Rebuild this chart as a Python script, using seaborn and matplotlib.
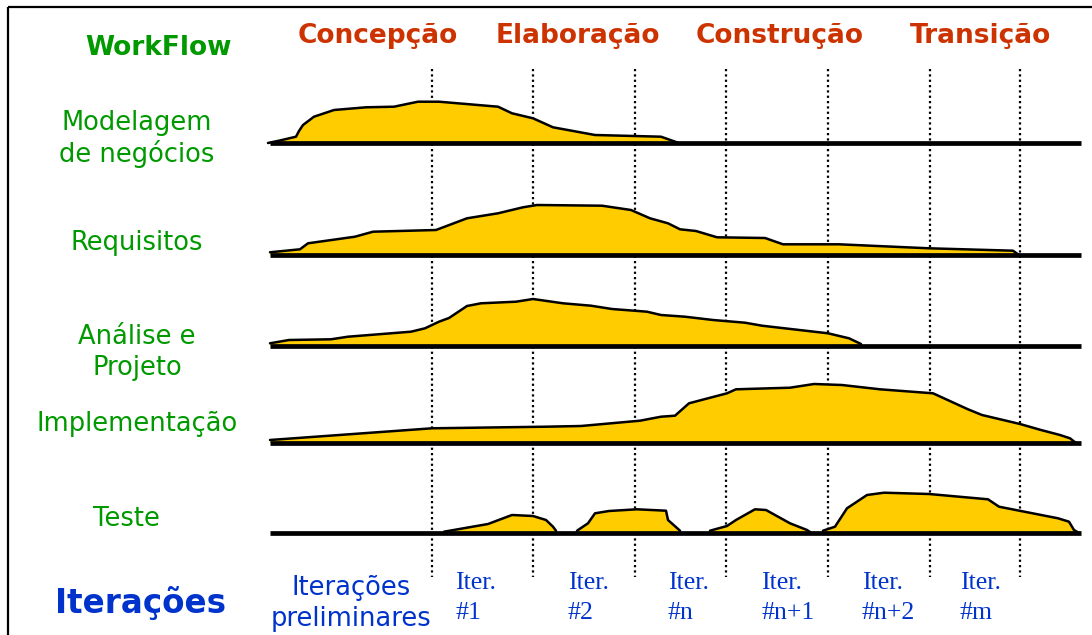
import matplotlib
matplotlib.use("Agg")
import matplotlib.pyplot as plt
import seaborn as sns
import pandas as pd
import numpy as np

# ---------------- data ----------------
phases = ["Concepção", "Elaboração", "Construção", "Transição"]
phase_x = [378, 578, 780, 980]

workflows = ["Modelagem\nde negócios", "Requisitos", "Análise e\nProjeto", "Implementação", "Teste"]
lane_base = [143, 255, 346, 443, 533]

iteration_bounds = [432, 533, 635, 726, 828, 930, 1020]
iter_labels = ["#1", "#2", "#n", "#n+1", "#n+2", "#m"]
iter_x = [455, 568, 668, 761, 862, 960]

# effort profiles (position along timeline, effort height)
model_x = [268, 279, 296, 299, 303, 314, 334, 366, 394, 418, 439, 498, 512, 533, 553, 595, 661, 678]
model_h = [0, 2.3, 6.3, 12, 18, 26.3, 33, 35.7, 36.3, 41.3, 41.3, 36.3, 29.7, 24.7, 15.7, 8, 6.3, 0.3]

req_x = [270, 300, 308, 355, 373, 436, 467, 498, 523, 537, 602, 631, 650, 668, 680, 696, 717,
         765, 783, 839, 929, 1013, 1018]
req_h = [2.7, 5.7, 11.7, 18.3, 23.3, 25, 36.7, 41.7, 47.7, 50, 49.3, 45, 36.7, 31.7, 25.7, 24, 17.7,
         17, 10.7, 10.7, 6.7, 4.3, 0.7]

ana_x = [270, 289, 331, 348, 411, 425, 439, 449, 467, 481, 516, 533, 563, 591, 612, 647, 661, 685,
         713, 745, 762, 828, 849, 861]
ana_h = [2.7, 6, 6.7, 9.3, 14.3, 17.7, 24.3, 28, 40, 42.7, 44.3, 47, 42.7, 40.3, 37, 34.3, 31, 29.3,
         26, 23.3, 20.3, 12.7, 7.7, 2]

impl_x = [270, 432, 546, 581, 640, 661, 675, 689, 727, 736, 790, 814, 842, 880, 933, 968, 982,
          1020, 1041, 1060, 1070, 1076]
impl_h = [3, 14.7, 16.3, 17, 22.3, 26.3, 27.3, 39.7, 49.7, 53.7, 55.3, 59, 58, 53.7, 49.7, 33.7, 28,
          19, 13, 8, 4.7, 0]

teste1_x = [444, 488, 512, 533, 546, 553, 556]
teste1_h = [1.3, 9, 18, 17, 13, 6.3, 2.3]
teste2_x = [577, 588, 595, 609, 637, 666, 668, 680]
teste2_h = [2.3, 9.7, 19.7, 22, 23.7, 22.3, 13, 2.3]
teste3_x = [710, 727, 736, 755, 766, 790, 807, 811]
teste3_h = [2.3, 7, 13, 23.7, 23, 9.7, 3, 0.3]
teste4_x = [823, 835, 847, 867, 884, 929, 988, 999, 1058, 1069, 1074, 1079]
teste4_h = [2.3, 6.3, 24.7, 38, 40.3, 39, 33.7, 26.3, 14.7, 11.3, 3, 0]

profiles = [
    (0, model_x, model_h),
    (1, req_x, req_h),
    (2, ana_x, ana_h),
    (3, impl_x, impl_h),
    (4, teste1_x, teste1_h),
    (4, teste2_x, teste2_h),
    (4, teste3_x, teste3_h),
    (4, teste4_x, teste4_h),
]

# ---------------- style ----------------
sns.set_theme(style="white")
plt.rcParams["font.family"] = ["DejaVu Sans"]

GREEN = "#009900"
ORANGE = "#cc3300"
BLUE = "#0033cc"
YELLOW = "#ffcc00"

fig = plt.figure(figsize=(10.92, 6.35), dpi=100)
ax = fig.add_axes([0, 0, 1, 1])
ax.set_xlim(0, 1092)
ax.set_ylim(635, 0)
ax.axis("off")

# frame (top + left)
ax.plot([8, 1092], [7, 7], color="black", lw=1.6, solid_capstyle="butt")
ax.plot([8, 8], [7, 635], color="black", lw=1.6, solid_capstyle="butt")

# iteration boundaries (dotted)
for xb in iteration_bounds:
    ax.plot([xb, xb], [69, 577], color="black", lw=1.6,
            linestyle=(0, (1, 1.4)), dash_capstyle="butt", zorder=1)

# humps
for lane, xs, hs in profiles:
    base = lane_base[lane]
    df = pd.DataFrame({"x": xs, "y": [base - h for h in hs]})
    ax.fill_between(df["x"], df["y"], base, color=YELLOW, lw=0, zorder=2)
    sns.lineplot(data=df, x="x", y="y", ax=ax, color="black", lw=1.8,
                 sort=False, estimator=None, zorder=3,
                 solid_joinstyle="round", solid_capstyle="round")

# baselines
for base in lane_base:
    ax.plot([270, 1081], [base, base], color="black", lw=3.4,
            solid_capstyle="butt", zorder=4)
ax.set_xlim(0, 1092)
ax.set_ylim(635, 0)
ax.set_xlabel("")
ax.set_ylabel("")

# texts
ax.text(158, 55, "WorkFlow", color=GREEN, fontsize=19, fontweight="bold",
        ha="center", va="baseline")
for p, px in zip(phases, phase_x):
    ax.text(px, 43, p, color=ORANGE, fontsize=19, fontweight="bold",
            ha="center", va="baseline")

wf_pos = [(137, [130, 162]), (137, [250]), (137, [344, 375]), (137, [431]), (126, [526])]
for name, (wx, ys) in zip(workflows, wf_pos):
    for line, yy in zip(name.split("\n"), ys):
        ax.text(wx, yy, line, color=GREEN, fontsize=18.5, ha="center", va="baseline")

ax.text(141, 613, "Iterações", color=BLUE, fontsize=23.5, fontweight="bold",
        ha="center", va="baseline")
ax.text(351, 595, "Iterações", color=BLUE, fontsize=18.5, ha="center", va="baseline")
ax.text(351, 626, "preliminares", color=BLUE, fontsize=18.5, ha="center", va="baseline")

for lab, ix in zip(iter_labels, iter_x):
    ax.text(ix, 589, "Iter.", color=BLUE, fontsize=18.5, family="Liberation Serif",
            ha="left", va="baseline")
    ax.text(ix, 619, lab, color=BLUE, fontsize=18.5, family="Liberation Serif",
            ha="left", va="baseline")

fig.savefig("out.png", dpi=100)
